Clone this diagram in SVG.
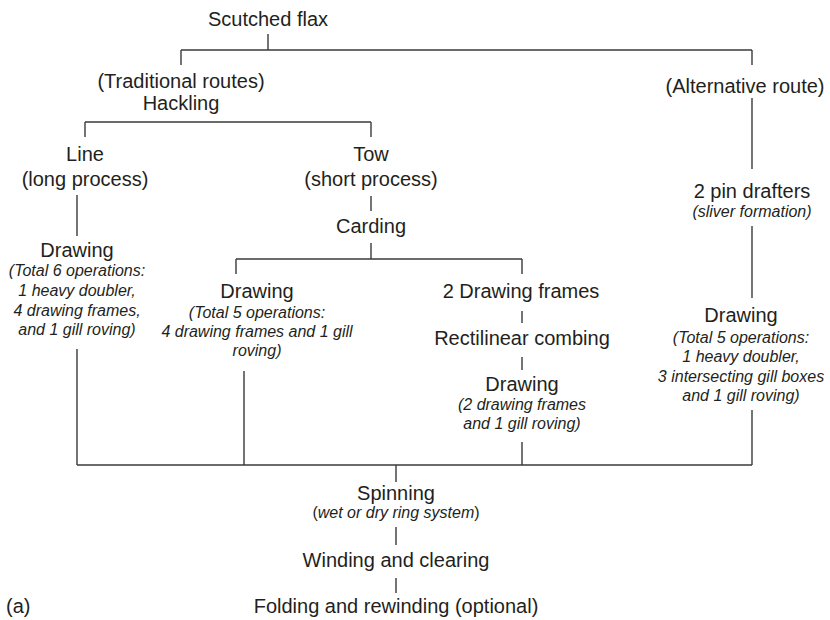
<svg xmlns="http://www.w3.org/2000/svg" width="830" height="620" viewBox="0 0 830 620">
<style>
text{font-family:"Liberation Sans",Arial,sans-serif;fill:#231f20;text-anchor:middle}
.n{font-size:20px}
.i{font-size:16px;font-style:italic}
.c line{stroke:#3a3a3a;stroke-width:1.4;fill:none}
</style>
<rect width="830" height="620" fill="#fff"/>
<g class="c" id="connectors">
<line x1="268" y1="34" x2="268" y2="50"/>
<line x1="181" y1="50" x2="752" y2="50"/>
<line x1="181" y1="50" x2="181" y2="65"/>
<line x1="752" y1="50" x2="752" y2="65"/>
<line x1="85" y1="122" x2="371" y2="122"/>
<line x1="85" y1="122" x2="85" y2="137"/>
<line x1="371" y1="122" x2="371" y2="137"/>
<line x1="77" y1="195" x2="77" y2="236"/>
<line x1="371" y1="196" x2="371" y2="211"/>
<line x1="371" y1="243" x2="371" y2="259"/>
<line x1="236" y1="259" x2="522" y2="259"/>
<line x1="236" y1="259" x2="236" y2="274"/>
<line x1="522" y1="259" x2="522" y2="274"/>
<line x1="522" y1="311" x2="522" y2="323"/>
<line x1="522" y1="357" x2="522" y2="370"/>
<line x1="752" y1="98" x2="752" y2="169"/>
<line x1="752" y1="226" x2="752" y2="298"/>
<line x1="77" y1="349" x2="77" y2="465"/>
<line x1="244" y1="371" x2="244" y2="465"/>
<line x1="522" y1="442" x2="522" y2="465"/>
<line x1="752" y1="410" x2="752" y2="465"/>
<line x1="77" y1="465" x2="752" y2="465"/>
<line x1="396" y1="465" x2="396" y2="482"/>
<line x1="396" y1="527" x2="396" y2="545"/>
<line x1="396" y1="578" x2="396" y2="593"/>
</g>
<g id="scutched"><text class="n" x="268" y="26">Scutched flax</text></g>
<g id="hackling"><text class="n" x="181" y="88">(Traditional routes)</text><text class="n" x="181" y="110">Hackling</text></g>
<g id="alternative"><text class="n" x="745" y="93">(Alternative route)</text></g>
<g id="line"><text class="n" x="85" y="161">Line</text><text class="n" x="85" y="186">(long process)</text></g>
<g id="tow"><text class="n" x="371" y="161">Tow</text><text class="n" x="371" y="186">(short process)</text></g>
<g id="carding"><text class="n" x="371" y="233">Carding</text></g>
<g id="pin"><text class="n" x="752" y="198">2 pin drafters</text><text class="i" x="752" y="217">(sliver formation)</text></g>
<g id="drawing1"><text class="n" x="77" y="257">Drawing</text>
<text class="i" x="77" y="276">(Total 6 operations:</text>
<text class="i" x="77" y="296">1 heavy doubler,</text>
<text class="i" x="77" y="316">4 drawing frames,</text>
<text class="i" x="77" y="335">and 1 gill roving)</text></g>
<g id="drawing2"><text class="n" x="257" y="298">Drawing</text>
<text class="i" x="257" y="318">(Total 5 operations:</text>
<text class="i" x="257" y="337">4 drawing frames and 1 gill</text>
<text class="i" x="257" y="356">roving)</text></g>
<g id="frames"><text class="n" x="521" y="298">2 Drawing frames</text></g>
<g id="combing"><text class="n" x="522" y="345">Rectilinear combing</text></g>
<g id="drawing3"><text class="n" x="522" y="391">Drawing</text>
<text class="i" x="522" y="410">(2 drawing frames</text>
<text class="i" x="522" y="429">and 1 gill roving)</text></g>
<g id="drawing4"><text class="n" x="741" y="322">Drawing</text>
<text class="i" x="741" y="343">(Total 5 operations:</text>
<text class="i" x="741" y="362">1 heavy doubler,</text>
<text class="i" x="741" y="382">3 intersecting gill boxes</text>
<text class="i" x="741" y="401">and 1 gill roving)</text></g>
<g id="spinning"><text class="n" x="396" y="500">Spinning</text>
<text x="396" y="518" style="font-size:16px">(<tspan font-style="italic">wet or dry ring system</tspan>)</text></g>
<g id="winding"><text class="n" x="396" y="567">Winding and clearing</text></g>
<g id="folding"><text class="n" x="396" y="613">Folding and rewinding (optional)</text></g>
<g id="label"><text class="n" x="6" y="613" style="text-anchor:start">(a)</text></g>
</svg>
